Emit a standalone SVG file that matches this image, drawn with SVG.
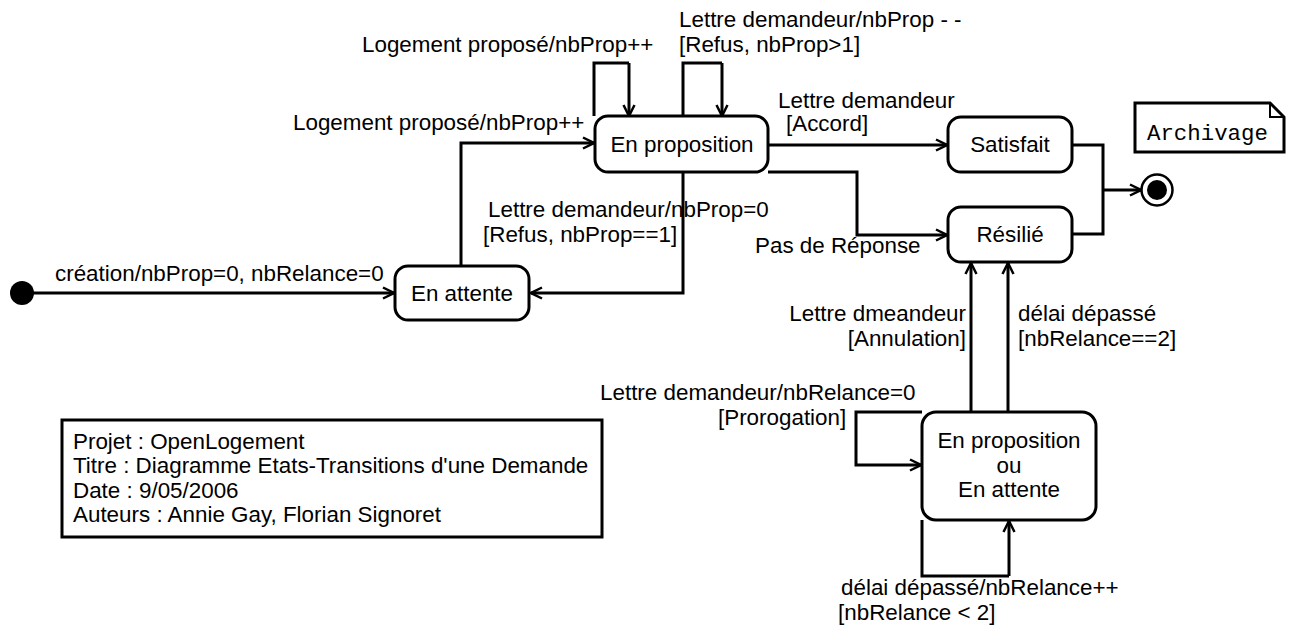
<svg xmlns="http://www.w3.org/2000/svg" width="1292" height="627" viewBox="0 0 1292 627">
  <style>
    .t { font-family: "Liberation Sans", Arial, sans-serif; font-size: 22.4px; fill: #000; }
    .m { font-family: "Liberation Mono", "Courier New", monospace; font-size: 22.4px; fill: #000; }
    .c { text-anchor: middle; }
    .r { text-anchor: end; }
    .state { fill: #fff; stroke: #000; stroke-width: 3; }
    .edge { fill: none; stroke: #000; stroke-width: 3; marker-end: url(#arrow); }
    .line { fill: none; stroke: #000; stroke-width: 3; }
  </style>
  <defs>
    <marker id="arrow" viewBox="0 0 14 14" refX="13" refY="7" markerWidth="14" markerHeight="14" markerUnits="userSpaceOnUse" orient="auto">
      <path d="M2,1.5 L13,7 L2,12.5" fill="none" stroke="#000" stroke-width="2.5"/>
    </marker>
  </defs>

  <rect width="1292" height="627" fill="#fff"/>

  <!-- transitions -->
  <g id="connectors">
    <path class="edge" d="M33,293 H394"/>
    <path class="edge" d="M461,266 V143 H594"/>
    <path class="line" d="M594,116 V63 H629"/>
    <path class="edge" d="M629,63 V116"/>
    <path class="line" d="M683,116 V63 H722"/>
    <path class="edge" d="M722,63 V116"/>
    <path class="edge" d="M683,172 V293 H531"/>
    <path class="edge" d="M768,145 H947"/>
    <path class="edge" d="M768,172 H857 V235 H947"/>
    <path class="line" d="M1072,145 H1103 V234 H1072"/>
    <path class="edge" d="M1103,190 H1141"/>
    <path class="edge" d="M971,412 V263"/>
    <path class="edge" d="M1008,412 V263"/>
    <path class="edge" d="M922,412 H856 V465 H921"/>
    <path class="line" d="M922,520 V576 H1009"/>
    <path class="edge" d="M1009,576 V521"/>
  </g>

  <!-- transition labels -->
  <g id="labels">
    <text class="t" x="55" y="281">création/nbProp=0, nbRelance=0</text>
    <text class="t" x="362" y="52">Logement proposé/nbProp++</text>
    <text class="t" x="293" y="130">Logement proposé/nbProp++</text>
    <text class="t" x="679" y="27">Lettre demandeur/nbProp - -</text>
    <text class="t" x="679" y="52">[Refus, nbProp&gt;1]</text>
    <text class="t" x="778" y="108">Lettre demandeur</text>
    <text class="t" x="786" y="131">[Accord]</text>
    <text class="t" x="488" y="217">Lettre demandeur/nbProp=0</text>
    <text class="t" x="483" y="242">[Refus, nbProp==1]</text>
    <text class="t" x="755" y="253">Pas de Réponse</text>
    <text class="t r" x="966" y="321">Lettre dmeandeur</text>
    <text class="t r" x="966" y="346">[Annulation]</text>
    <text class="t" x="1018" y="321">délai dépassé</text>
    <text class="t" x="1018" y="346">[nbRelance==2]</text>
    <text class="t" x="600" y="400">Lettre demandeur/nbRelance=0</text>
    <text class="t" x="718" y="425">[Prorogation]</text>
    <text class="t" x="841" y="595">délai dépassé/nbRelance++</text>
    <text class="t" x="838" y="620">[nbRelance &lt; 2]</text>
  </g>

  <g id="initial">
    <circle cx="22" cy="293" r="12" fill="#000"/>
  </g>

  <g id="en-attente">
    <rect class="state" x="395" y="266" width="134" height="54" rx="13"/>
    <text class="t c" x="462" y="301">En attente</text>
  </g>

  <g id="en-proposition">
    <rect class="state" x="595" y="116" width="173" height="56" rx="13"/>
    <text class="t c" x="682" y="152">En proposition</text>
  </g>

  <g id="satisfait">
    <rect class="state" x="948" y="117" width="124" height="55" rx="13"/>
    <text class="t c" x="1010" y="152">Satisfait</text>
  </g>

  <g id="resilie">
    <rect class="state" x="948" y="207" width="124" height="55" rx="13"/>
    <text class="t c" x="1010" y="242">Résilié</text>
  </g>

  <g id="final">
    <circle cx="1157" cy="190" r="15.5" fill="#fff" stroke="#000" stroke-width="2.5"/>
    <circle cx="1157" cy="190" r="10" fill="#000"/>
  </g>

  <g id="archivage">
    <path d="M1135,103 H1270 L1284,117 V152 H1135 Z" fill="#fff" stroke="#000" stroke-width="3"/>
    <path d="M1270,103 V117 H1284" fill="none" stroke="#000" stroke-width="2"/>
    <text class="m" x="1147" y="140">Archivage</text>
  </g>

  <g id="en-proposition-ou-en-attente">
    <rect class="state" x="922" y="412" width="174" height="108" rx="14"/>
    <text class="t c" x="1009" y="448">En proposition</text>
    <text class="t c" x="1009" y="473">ou</text>
    <text class="t c" x="1009" y="497">En attente</text>
  </g>

  <g id="cartouche">
    <rect x="62" y="420" width="540" height="117" fill="#fff" stroke="#000" stroke-width="3"/>
    <text class="t" x="73" y="449">Projet : OpenLogement</text>
    <text class="t" x="73" y="473">Titre : Diagramme Etats-Transitions d'une Demande</text>
    <text class="t" x="73" y="498">Date : 9/05/2006</text>
    <text class="t" x="73" y="522">Auteurs : Annie Gay, Florian Signoret</text>
  </g>
</svg>
